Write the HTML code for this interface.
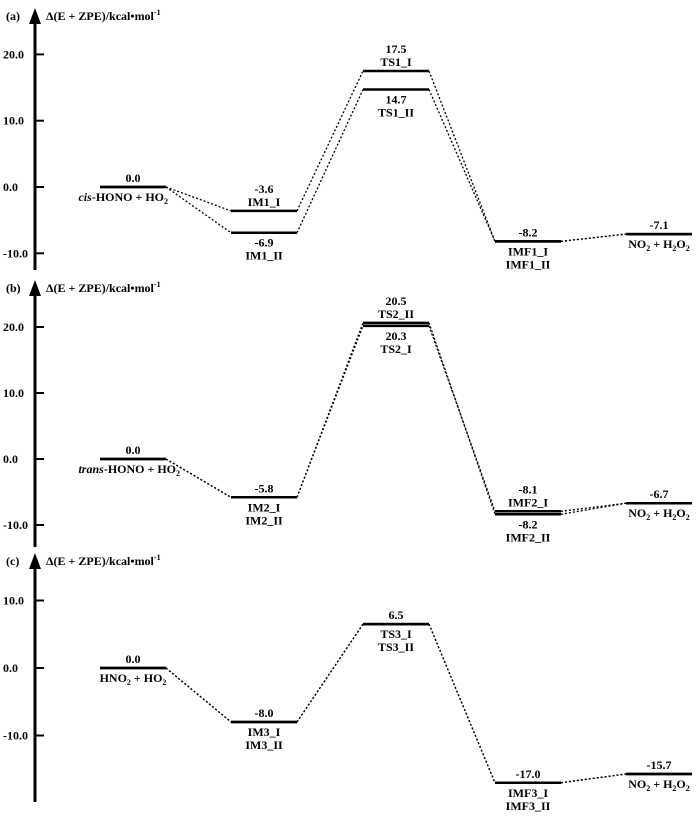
<!DOCTYPE html>
<html><head><meta charset="utf-8">
<style>
html,body{margin:0;padding:0;background:#fff;}
svg{display:block;font-family:"Liberation Serif",serif;font-weight:bold;}
</style></head>
<body>
<svg id="chart" width="700" height="816" viewBox="0 0 700 816" xmlns="http://www.w3.org/2000/svg"></svg>
<script>
// Stage columns (x range of each level bar)
const stages = ["reactant","IM","TS","IMF","product"];
// Panel (a) energies
const aPathI  = [0.0, -3.6, 17.5, -8.2, -7.1];
const aPathII = [0.0, -6.9, 14.7, -8.2, -7.1];
// Panel (b) energies
const bPathI  = [0.0, -5.8, 20.3, -8.1, -6.7];
const bPathII = [0.0, -5.8, 20.5, -8.2, -6.7];
// Panel (c) energies
const cPathI  = [0.0, -8.0, 6.5, -17.0, -15.7];
const cPathII = [0.0, -8.0, 6.5, -17.0, -15.7];
// Tick labels
const aTicks = [20, 10, 0, -10];
const bTicks = [20, 10, 0, -10];
const cTicks = [10, 0, -10];

const NS = "http://www.w3.org/2000/svg";
const svg = document.getElementById("chart");
const xStart = [100, 231, 363, 495, 626];
const barW = 66;
function mk(tag, attrs, parent){ const e=document.createElementNS(NS,tag); for(const k in attrs) e.setAttribute(k,attrs[k]); (parent||svg).appendChild(e); return e; }
function txt(x,y,s,anchor,parent,size){ const t=mk("text",{x:x,y:y,"text-anchor":anchor||"middle","font-size":size||12},parent); t.innerHTML=s; return t; }
const sub = s => s.replace(/(\d)$/,"$1");

function panel(cfg){
  const g = mk("g",{});
  
  
  const y = v => cfg.zero - v*cfg.scale;
  // axis
  const ax = mk("line",{x1:35,x2:35,y1:cfg.top+10,y2:cfg.bottom,stroke:"#000","stroke-width":3},g);
  
  
  const ar = mk("polygon",{points:`35,${cfg.top} 29,${cfg.top+16} 41,${cfg.top+16}`,fill:"#000"},g);
  
  
  const pl = txt(6,cfg.top+12,cfg.letter,"start",g,12);
  
  
  const yt = txt(46,cfg.top+12,'Δ(E + ZPE)/kcal•mol<tspan dy="-5" font-size="8">-1</tspan>',"start",g,12);
  
  
  cfg.ticks.forEach(t=>{
    const tl = mk("line",{x1:35,x2:44,y1:y(t),y2:y(t),stroke:"#000","stroke-width":2},g);
    
    
    const lb = txt(3,y(t)+4,t.toFixed(1),"start",g,12);
    
    
  });
  // level y positions with small visual separation for near-equal levels
  const yI = cfg.I.map(y), yII = cfg.II.map(y);
  for(let i=0;i<5;i++){
    if(cfg.I[i]!==cfg.II[i] && Math.abs(yI[i]-yII[i])<3){
      const m=(yI[i]+yII[i])/2, s = yI[i]<yII[i]?-1:1;
      yI[i]=m+1.5*s; yII[i]=m-1.5*s;
    }
  }
  // connectors
  [yI,yII].forEach(ys=>{
    for(let i=0;i<4;i++){
      const c = mk("line",{x1:xStart[i]+barW,y1:ys[i],x2:xStart[i+1],y2:ys[i+1],stroke:"#000","stroke-width":1.3,"stroke-dasharray":"2,2"},g);
      
      
    }
  });
  // levels
  [yI,yII].forEach((ys,p)=>{
    for(let i=0;i<5;i++){
      const b = mk("line",{x1:xStart[i],x2:xStart[i]+barW,y1:ys[i],y2:ys[i],stroke:"#000","stroke-width":2.5},g);
      
      
    }
  });
  // labels
  cfg.labels.forEach(L=>{
    const ys = L.path==="II"?yII:yI;
    const base = ys[L.i];
    let yy = L.pos==="above" ? base-5-(L.lines.length-1-L.k)*13 : base+14+L.k*13;
    const t = txt(L.x!==undefined?L.x:xStart[L.i]+barW/2, yy, L.text, L.anchor||"middle", g, 12);
    
    
  });
}
function lab(list){ // expands groups into per-line label specs
  const out=[];
  list.forEach(G=>G.lines.forEach((s,k)=>out.push({i:G.i,path:G.path,pos:G.pos,lines:G.lines,k:k,text:s,x:G.x,anchor:G.anchor})));
  return out;
}
const H2 = 'NO<tspan font-size="8" dy="3">2</tspan><tspan dy="-3"> + H</tspan><tspan font-size="8" dy="3">2</tspan><tspan dy="-3">O</tspan><tspan font-size="8" dy="3">2</tspan>';
const HO2 = ' + HO<tspan font-size="8" dy="3">2</tspan>';

panel({name:"panel-a",letter:"(a)",top:8,bottom:270,zero:187,scale:6.63,ticks:aTicks,I:aPathI,II:aPathII,
 labels:lab([
  {i:0,path:"I",pos:"above",lines:[aPathI[0].toFixed(1)]},
  {i:0,path:"I",pos:"below",lines:['<tspan font-style="italic">cis</tspan>-HONO'+HO2],x:168,anchor:"end"},
  {i:1,path:"I",pos:"above",lines:[aPathI[1].toFixed(1),"IM1_I"]},
  {i:1,path:"II",pos:"below",lines:[aPathII[1].toFixed(1),"IM1_II"]},
  {i:2,path:"I",pos:"above",lines:[aPathI[2].toFixed(1),"TS1_I"]},
  {i:2,path:"II",pos:"below",lines:[aPathII[2].toFixed(1),"TS1_II"]},
  {i:3,path:"I",pos:"above",lines:[aPathI[3].toFixed(1)]},
  {i:3,path:"II",pos:"below",lines:["IMF1_I","IMF1_II"]},
  {i:4,path:"I",pos:"above",lines:[aPathI[4].toFixed(1)]},
  {i:4,path:"I",pos:"below",lines:[H2]}
 ])});

panel({name:"panel-b",letter:"(b)",top:280,bottom:547,zero:459,scale:6.6,ticks:bTicks,I:bPathI,II:bPathII,
 labels:lab([
  {i:0,path:"I",pos:"above",lines:[bPathI[0].toFixed(1)]},
  {i:0,path:"I",pos:"below",lines:['<tspan font-style="italic">trans</tspan>-HONO'+HO2],x:180,anchor:"end"},
  {i:1,path:"I",pos:"above",lines:[bPathI[1].toFixed(1)]},
  {i:1,path:"I",pos:"below",lines:["IM2_I","IM2_II"]},
  {i:2,path:"II",pos:"above",lines:[bPathII[2].toFixed(1),"TS2_II"]},
  {i:2,path:"I",pos:"below",lines:[bPathI[2].toFixed(1),"TS2_I"]},
  {i:3,path:"I",pos:"above",lines:[bPathI[3].toFixed(1),"IMF2_I"]},
  {i:3,path:"II",pos:"below",lines:[bPathII[3].toFixed(1),"IMF2_II"]},
  {i:4,path:"I",pos:"above",lines:[bPathI[4].toFixed(1)]},
  {i:4,path:"I",pos:"below",lines:[H2]}
 ])});

panel({name:"panel-c",letter:"(c)",top:553,bottom:802,zero:668,scale:6.75,ticks:cTicks,I:cPathI,II:cPathII,
 labels:lab([
  {i:0,path:"I",pos:"above",lines:[cPathI[0].toFixed(1)]},
  {i:0,path:"I",pos:"below",lines:['HNO<tspan font-size="8" dy="3">2</tspan><tspan dy="-3">'+' + HO</tspan><tspan font-size="8" dy="3">2</tspan>']},
  {i:1,path:"I",pos:"above",lines:[cPathI[1].toFixed(1)]},
  {i:1,path:"I",pos:"below",lines:["IM3_I","IM3_II"]},
  {i:2,path:"I",pos:"above",lines:[cPathI[2].toFixed(1)]},
  {i:2,path:"I",pos:"below",lines:["TS3_I","TS3_II"]},
  {i:3,path:"I",pos:"above",lines:[cPathI[3].toFixed(1)]},
  {i:3,path:"I",pos:"below",lines:["IMF3_I","IMF3_II"]},
  {i:4,path:"I",pos:"above",lines:[cPathI[4].toFixed(1)]},
  {i:4,path:"I",pos:"below",lines:[H2]}
 ])});
</script>
</body></html>
